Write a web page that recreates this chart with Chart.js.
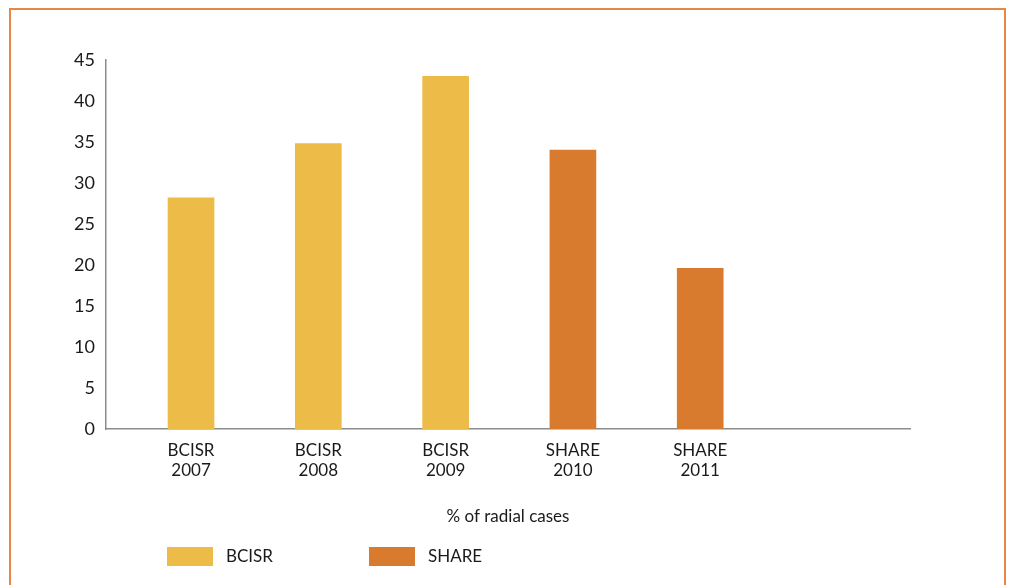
<!DOCTYPE html>
<html>
<head>
<meta charset="utf-8">
<script src="https://cdn.jsdelivr.net/npm/chart.js@4/dist/chart.umd.min.js"></script>
<style>
  html, body { margin: 0; padding: 0; background: #fff; }
  #wrap { position: relative; width: 1014px; height: 585px; overflow: hidden; }
  #frame { position: absolute; left: 9px; top: 8px; width: 997px; height: 620px; border: 2px solid #e3884a; box-sizing: border-box; }
  canvas { position: absolute; left: 0; top: 0; }
</style>
</head>
<body>
<div id="wrap">
  <div id="frame"></div>
  <canvas id="radialChart" width="1014" height="585"></canvas>
</div>
<script>
  // values
  const sources = ['BCISR', 'BCISR', 'BCISR', 'SHARE', 'SHARE'];
  const years = ['2007', '2008', '2009', '2010', '2011'];
  const values = [28.2, 34.8, 43.0, 34.0, 19.6];
  const seriesNames = ['BCISR', 'SHARE'];
  const seriesColors = ['#edbb48', '#d97b2e'];
  const yTicks = [0, 5, 10, 15, 20, 25, 30, 35, 40, 45];

  const font = 'Lato';
  const axisColor = '#8c8c8c';

  const datasets = seriesNames.map((name, s) => ({
    label: name,
    backgroundColor: seriesColors[s],
    data: values.map((v, i) => ({ x: i, y: v })).filter((p, i) => sources[i] === name)
  }));

  // legend drawn under the axis title
  const legendPlugin = {
    id: 'bottomLegend',
    afterDraw(chart) {
      const ctx = chart.ctx;
      const area = chart.chartArea;
      ctx.save();
      ctx.font = '17px ' + font;
      ctx.textBaseline = 'middle';
      chart.data.datasets.forEach((ds, i) => {
        const x = area.left + 61 + i * 202;
        const y = area.bottom + 118;
        ctx.fillStyle = ds.backgroundColor;
        ctx.fillRect(x, y, 46, 19);
        ctx.fillStyle = '#1a1a1a';
        ctx.fillText(ds.label, x + 59, y + 10);
      });
      ctx.restore();
    }
  };

  new Chart(document.getElementById('radialChart'), {
    type: 'bar',
    data: { datasets: datasets },
    plugins: [legendPlugin],
    options: {
      responsive: false,
      animation: false,
      layout: { padding: { top: 60, right: 104, left: 0, bottom: 0 } },
      datasets: { bar: { barThickness: 46, grouped: false } },
      plugins: { legend: { display: false }, tooltip: { enabled: false } },
      scales: {
        x: {
          type: 'linear',
          offset: false,
          min: -0.668,
          max: 5.648,
          afterFit(scale) { scale.height = 156; },
          afterBuildTicks(scale) { scale.ticks = years.map((y, i) => ({ value: i })); },
          grid: { display: false, drawTicks: false },
          border: { color: axisColor, width: 1.5 },
          ticks: {
            padding: 12,
            maxRotation: 0,
            autoSkip: false,
            color: '#1a1a1a',
            font: { family: font, size: 17, lineHeight: 1.15 },
            callback: (v) => [sources[v], years[v]]
          },
          title: {
            display: true,
            text: '% of radial cases',
            color: '#1a1a1a',
            font: { family: font, size: 17 },
            padding: { top: 0, bottom: 58 }
          }
        },
        y: {
          min: 0,
          max: 45,
          afterFit(scale) { scale.width = 106; },
          afterBuildTicks(scale) { scale.ticks = yTicks.map(v => ({ value: v })); },
          grid: { display: false, drawTicks: false },
          border: { color: axisColor, width: 1.5 },
          ticks: {
            padding: 11,
            color: '#1a1a1a',
            font: { family: font, size: 18 }
          }
        }
      }
    }
  });
</script>
</body>
</html>
